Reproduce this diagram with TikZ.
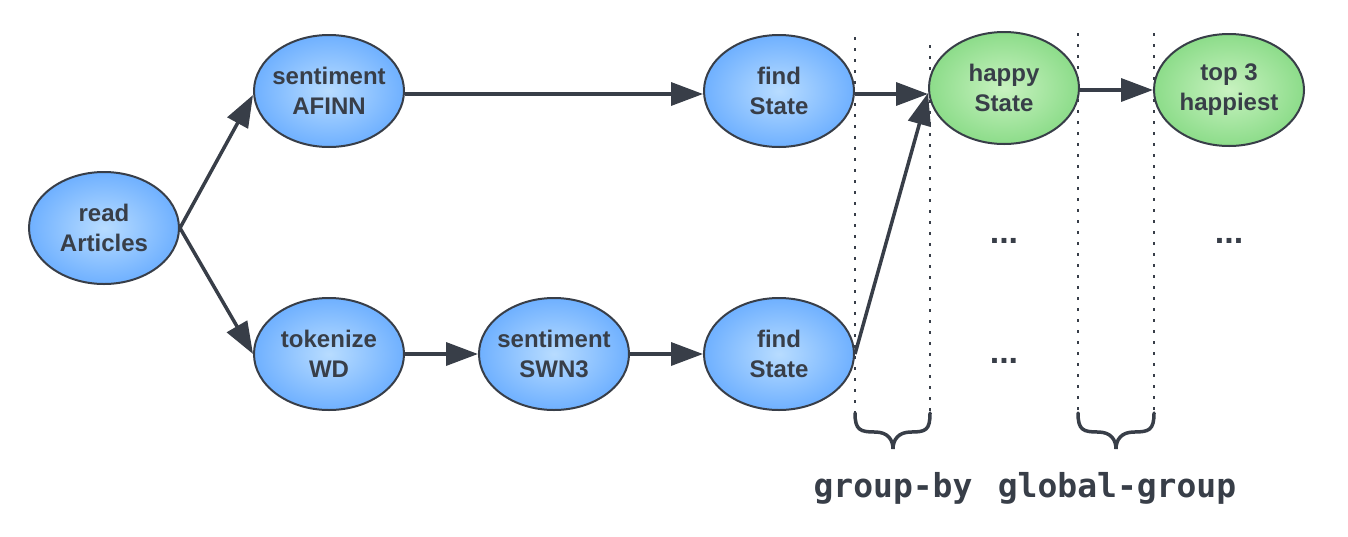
\documentclass[tikz,border=0pt]{standalone}
\usepackage{fontspec}
\setmainfont{Liberation Sans}
\newfontfamily\monob{DejaVu Sans Mono}
\usetikzlibrary{arrows.meta,shapes.geometric}
\definecolor{ink}{HTML}{383E48}
\definecolor{bluein}{HTML}{B8DCFF}
\definecolor{blueout}{HTML}{2F8AFF}
\definecolor{greenin}{HTML}{C8F2C0}
\definecolor{greenout}{HTML}{58C95A}
\pgfdeclareradialshading{blueball}{\pgfpoint{0bp}{0bp}}{color(0bp)=(bluein); color(47bp)=(blueout); color(50bp)=(blueout)}
\pgfdeclareradialshading{greenball}{\pgfpoint{0bp}{0bp}}{color(0bp)=(greenin); color(47bp)=(greenout); color(50bp)=(greenout)}
\tikzset{
  op/.style={ellipse, draw=ink, line width=2pt, minimum width=150pt, minimum height=112pt,
    inner xsep=-6pt, inner ysep=0pt, align=center, text=ink, font=\fontsize{24}{30}\selectfont\bfseries},
  bluenode/.style={op, shading=blueball},
  greennode/.style={op, shading=greenball},
  flow/.style={draw=ink, line width=3.5pt, -{Triangle[length=32pt,width=23pt]}},
  sep/.style={draw=ink, line width=1.6pt, dash pattern=on 3pt off 8pt},
  brc/.style={draw=ink, line width=3.5pt, line cap=round},
  dots/.style={text=ink, font=\fontsize{34}{34}\selectfont\bfseries},
  lbl/.style={text=ink, font=\fontsize{33}{33}\selectfont\monob\bfseries}
}
\begin{document}
\begin{tikzpicture}[x=1pt,y=-1pt]
\useasboundingbox (0,0) rectangle (1348,536);
% separators
\coordinate (d1t) at (855,37);  \coordinate (d1b) at (855,413);
\coordinate (d2t) at (930,45);  \coordinate (d2b) at (930,413);
\coordinate (d3t) at (1078,33); \coordinate (d3b) at (1078,413);
\coordinate (d4t) at (1154,33); \coordinate (d4b) at (1154,413);
\draw[sep] (d1t) -- (d1b);
\draw[sep] (d2t) -- (d2b);
\draw[sep] (d3t) -- (d3b);
\draw[sep] (d4t) -- (d4b);
% nodes
\node[bluenode] (ra) at (104,228) {read\\Articles};
\node[bluenode] (sa) at (329,91) {sentiment\\AFINN};
\node[bluenode] (tw) at (329,354) {tokenize\\WD};
\node[bluenode] (ss) at (554,354) {sentiment\\SWN3};
\node[bluenode] (f1) at (779,91) {find\\State};
\node[bluenode] (f2) at (779,354) {find\\State};
\node[greennode] (hs) at (1004,88) {happy\\State};
\node[greennode] (t3) at (1229,90) {top 3\\happiest};
% dots
\node[dots] (e1) at (1004,241) {...};
\node[dots] (e2) at (1004,361) {...};
\node[dots] (e3) at (1229,241) {...};
% arrows
\draw[flow] (ra.east) -- ([yshift=-4pt]sa.west);
\draw[flow] (ra.east) -- (tw.west);
\draw[flow] ([yshift=-3pt]sa.east) -- ([yshift=-3pt]f1.west);
\draw[flow] (tw.east) -- (ss.west);
\draw[flow] (ss.east) -- (f2.west);
\draw[flow] ([yshift=-3pt]f1.east) -- ([yshift=-3pt]f1.east -| hs.west);
\draw[flow] (f2.east) -- ([yshift=-5pt]hs.west);
\draw[flow] ([yshift=-2pt]hs.east) -- ([yshift=-2pt]hs.east -| t3.west);
% braces
\draw[brc] (d1b) .. controls (855,430) and (860,432) .. (875,432) .. controls (888,432) and (893,440) .. (893,449)
  .. controls (893,440) and (898,432) .. (911,432) .. controls (926,432) and (930,430) .. (d2b);
\draw[brc] (d3b) .. controls (1078,430) and (1083,432) .. (1098,432) .. controls (1111,432) and (1116,440) .. (1116,449)
  .. controls (1116,440) and (1121,432) .. (1134,432) .. controls (1149,432) and (1154,430) .. (d4b);
% labels
\node[lbl] (g1) at (893,488) {group-by};
\node[lbl] (g2) at (1117,488) {global-group};
\end{tikzpicture}
\end{document}
